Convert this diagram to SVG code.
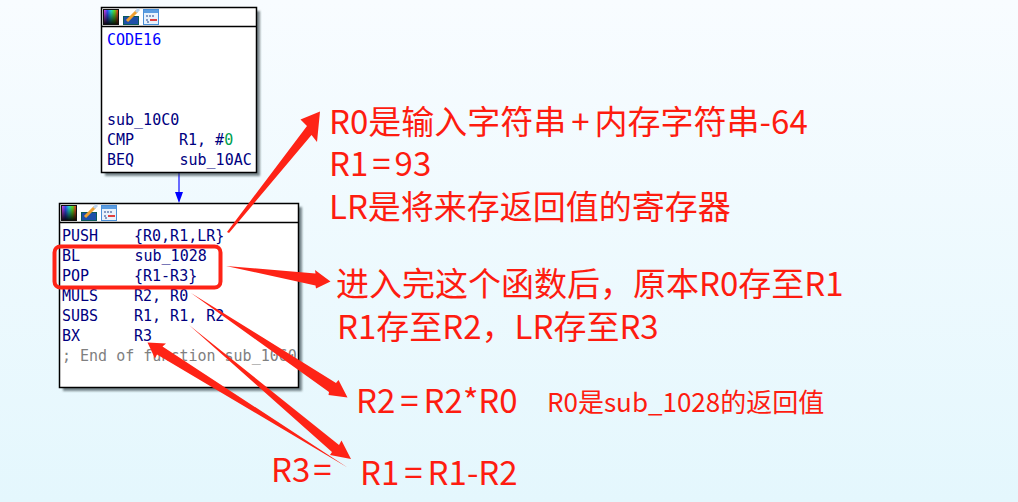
<svg xmlns="http://www.w3.org/2000/svg" width="1018" height="502" viewBox="0 0 1018 502">
<defs>
<linearGradient id="bg" x1="0" y1="0" x2="0" y2="1"><stop offset="0" stop-color="#f8fcff"/><stop offset="1" stop-color="#e4f7fd"/></linearGradient>
<linearGradient id="hue" x1="0" y1="0" x2="1" y2="0"><stop offset="0" stop-color="#e040e0"/><stop offset=".25" stop-color="#3050ff"/><stop offset=".5" stop-color="#20e0d0"/><stop offset=".75" stop-color="#60e020"/><stop offset="1" stop-color="#f03020"/></linearGradient>
<linearGradient id="dark" x1="0" y1="0" x2="0" y2="1"><stop offset="0" stop-color="#000" stop-opacity="0"/><stop offset="1" stop-color="#000" stop-opacity=".9"/></linearGradient>
<filter id="blur" x="-5%" y="-5%" width="110%" height="110%"><feGaussianBlur stdDeviation="1.2"/></filter>
<g id="icons">
<rect x="0" y="0" width="16" height="16" fill="#111"/>
<rect x="1" y="1" width="14" height="14" fill="url(#hue)"/><rect x="1" y="1" width="14" height="14" fill="url(#dark)"/>
<rect x="20.500" y="7.500" width="15" height="8" fill="#1f4fa8" stroke="#0b5a5a"/>
<path d="M24 12 L34 2" stroke="#f0a030" stroke-width="3"/><path d="M33 3 L36 0" stroke="#bcd4ee" stroke-width="3"/>
<rect x="40.500" y="0.500" width="15" height="15" fill="#e8f2fc" stroke="#4a8fd8"/>
<rect x="41" y="1" width="14" height="3" fill="#5a9ce0"/>
<path d="M43 7h9M44 10v3h3" stroke="#22448c" fill="none" stroke-dasharray="2 1"/><rect x="47" y="10" width="7" height="2" fill="#e04040"/>
</g>
</defs>
<style>
.box{fill:#fff;stroke:#000;stroke-width:1.5}
.shadow{fill:#2a3a40;opacity:.6;filter:url(#blur)}
.code{font-family:"DejaVu Sans Mono","Liberation Mono",monospace;font-size:15px;fill:#000080}
.blue{fill:#0000ff}
.grey{fill:#808080}
.note{font-family:"Noto Sans CJK SC","Noto Sans",sans-serif;fill:#fe1c10;font-size:33px}
.small{font-size:26px}
.arrow{fill:#fe2316}
</style>
<rect width="1018" height="502" fill="url(#bg)"/>
<g id="connectors">
<path d="M179 173V195" stroke="#3a3aff" stroke-width="1.5" fill="none"/>
<path d="M175 192H183L179 203Z" fill="#0000ff"/>
</g>
<g id="node-top">
<rect class="shadow" x="105" y="11" width="155" height="165"/>
<rect class="box" x="101.500" y="7.500" width="155" height="165"/>
<path d="M102 26.500H256" stroke="#000" stroke-width="1.500"/>
<use href="#icons" x="103" y="9"/>
<text class="code blue" x="107" y="45">CODE16</text>
<text class="code" x="107" y="125">sub_10C0</text>
<text class="code" x="107" y="145">CMP</text><text class="code" x="179" y="145">R1, #<tspan fill="#00a050">0</tspan></text>
<text class="code" x="107" y="165">BEQ</text><text class="code" x="179.500" y="165">sub_10AC</text>
</g>
<g id="node-bottom">
<rect class="shadow" x="63" y="207" width="239" height="184"/>
<rect class="box" x="59.500" y="203.500" width="239" height="184"/>
<path d="M60 222.500H298" stroke="#000" stroke-width="1.500"/>
<use href="#icons" x="61" y="205"/>
<text class="code" x="62" y="241">PUSH</text><text class="code" x="134" y="241">{R0,R1,LR}</text>
<text class="code" x="62" y="261">BL</text><text class="code" x="134.500" y="261">sub_1028</text>
<text class="code" x="62" y="281">POP</text><text class="code" x="134" y="281">{R1-R3}</text>
<text class="code" x="62" y="301">MULS</text><text class="code" x="134" y="301">R2, R0</text>
<text class="code" x="62" y="321">SUBS</text><text class="code" x="134" y="321">R1, R1, R2</text>
<text class="code" x="62" y="341">BX</text><text class="code" x="134" y="341">R3</text>
<text class="code grey" x="62" y="361">; End of function sub_1060</text>
</g>
<g id="highlight">
<rect x="54.500" y="246.500" width="166" height="41" rx="6" fill="none" stroke="#fe2316" stroke-width="4"/>
</g>
<g id="annotation-arrows">
<path class="arrow" d="M227 232L307 126L300.500 119.500L320 111.500L317 142L311.500 135L229 233Z"/>
<path class="arrow" d="M226 266L315.500 273.500L315 270L330.500 281.500L316 288.500L315.500 285.500Z"/>
<path class="arrow" d="M191 293L336 383L338.500 380L347.500 397.500L328.500 395L329 392Z"/>
<path class="arrow" d="M189 325L339 445L341.500 440.500L351 459L330 455L332 452Z"/>
<path class="arrow" d="M147.500 342.500L166 343.500L162.500 346.500L347.500 467.500L157 354.500L155 358.500Z"/>
</g>
<g id="annotations">
<text class="note" x="329" y="134">R0是输入字符串<tspan dx="5">+</tspan><tspan dx="5">内存字符串-64</tspan></text>
<text class="note" x="329" y="176">R1<tspan dx="4">=</tspan><tspan dx="4">93</tspan></text>
<text class="note" x="329" y="219">LR是将来存返回值的寄存器</text>
<text class="note" x="336" y="296">进入完这个函数后，原本R0存至R1</text>
<text class="note" x="337" y="339">R1存至R2，LR存至R3</text>
<text class="note" x="356" y="413">R2<tspan dx="5">=</tspan><tspan dx="5">R2*R0</tspan></text>
<text class="note small" x="547" y="412">R0是sub_1028的返回值</text>
<text class="note" x="271" y="482">R3<tspan dx="3">=</tspan></text>
<text class="note" x="360" y="485">R1<tspan dx="5">=</tspan><tspan dx="5">R1-R2</tspan></text>
</g>
</svg>
